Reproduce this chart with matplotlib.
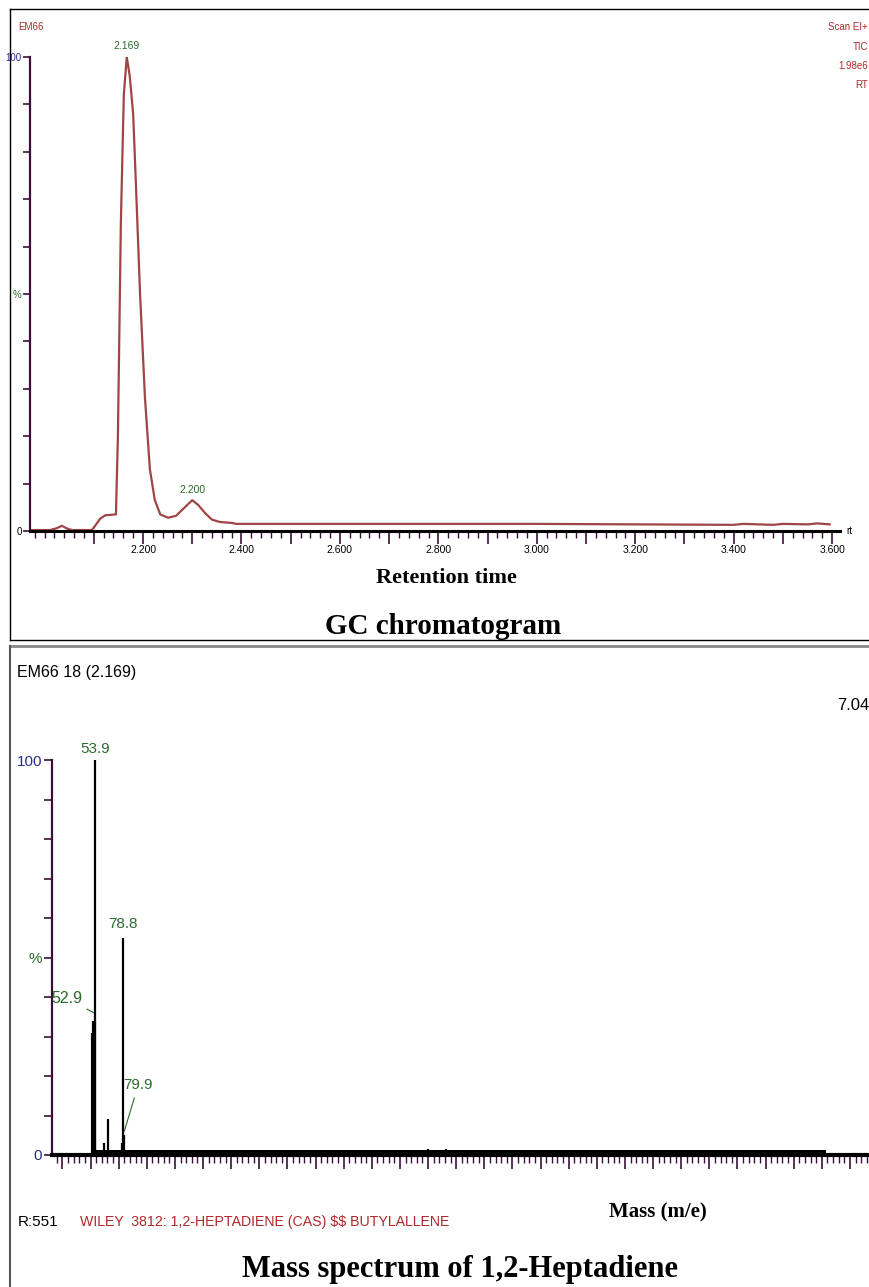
import matplotlib
matplotlib.use("Agg")
import matplotlib.pyplot as plt
from matplotlib.lines import Line2D
from matplotlib.ticker import MultipleLocator

W, H = 870, 1287

# GC chromatogram (retention time, relative abundance %)
rt = [1.970, 2.011, 2.025, 2.035, 2.046, 2.056, 2.096, 2.102, 2.113, 2.123, 2.145,
      2.149, 2.155, 2.161, 2.167, 2.173, 2.180, 2.186, 2.194, 2.204, 2.214, 2.224,
      2.235, 2.251, 2.267, 2.283, 2.300, 2.312, 2.326, 2.340, 2.356, 2.381, 2.389,
      2.600, 3.000, 3.399, 3.420, 3.480, 3.500, 3.550, 3.570, 3.595]
tic = [0.2, 0.2, 0.6, 1.1, 0.5, 0.2, 0.2, 1.0, 2.6, 3.3, 3.5,
       20, 65, 92, 100, 96, 88, 72, 50, 28, 13, 6.5,
       3.5, 2.8, 3.2, 4.8, 6.5, 5.5, 3.8, 2.4, 1.9, 1.7, 1.5,
       1.5, 1.5, 1.3, 1.5, 1.3, 1.5, 1.4, 1.6, 1.4]
gc_peaks = [(2.167, 100, "2.169"), (2.300, 6.5, "2.200")]
rt_ticks = [2.2, 2.4, 2.6, 2.8, 3.0, 3.2, 3.4, 3.6]

# mass spectrum (m/z, relative intensity %)
mz = [51.9, 52.9, 53.9, 61.9, 65.9, 77.9, 78.8, 79.9, 350, 366, 412, 520, 680]
inten = [31, 34, 100, 3, 9, 3, 55, 5, 1.5, 1.5, 1.2, 1.2, 1.2]
noise_range = (50, 704)
noise_level = 1.3

narrow = ["Liberation Sans", "DejaVu Sans"]
serif = ["Liberation Serif", "DejaVu Serif"]
purple = "#3a1038"
green = "#2a6a2a"
blue = "#2b2b8c"
red = "#b02828"

fig = plt.figure(figsize=(W / 100, H / 100), dpi=100)


def px_axes(x0, y0, x1, y1):
    return fig.add_axes([x0 / W, 1 - y1 / H, (x1 - x0) / W, (y1 - y0) / H])


def ftxt(x, y, s, **kw):
    return fig.text(x / W, 1 - y / H, s, parse_math=False, **kw)


def fline(xs, ys, **kw):
    fig.add_artist(Line2D([x / W for x in xs], [1 - y / H for y in ys],
                          transform=fig.transFigure, **kw))


# frames
fline([10, 10], [9, 640], color="black", lw=1)
fline([10, 870], [9, 9], color="black", lw=1)
fline([10, 870], [640, 640], color="black", lw=1)
fline([10, 870], [646, 646], color="#888888", lw=2)
fline([10, 10], [646, 1287], color="#555555", lw=1.5)

# ---------- top: GC chromatogram ----------
ax = px_axes(30, 57, 840, 531)
ax.plot(rt, tic, color="#a04545", lw=1.6)
ax.set_xlim(1.9704, 3.616)
ax.set_ylim(0, 100)
for s in ["top", "right"]:
    ax.spines[s].set_visible(False)
ax.spines["left"].set_color(purple)
ax.spines["left"].set_linewidth(1.6)
ax.spines["bottom"].set_color("black")
ax.spines["bottom"].set_linewidth(2.2)
ax.xaxis.set_minor_locator(MultipleLocator(0.02))
xmaj = [2.1 + 0.1 * i for i in range(16)]
ax.set_xticks(xmaj)
ax.set_xticklabels(["%.3f" % v if any(abs(v - t) < 1e-6 for t in rt_ticks) else ""
                    for v in xmaj], fontsize=7.5, family=narrow)
ax.tick_params(axis="x", which="major", length=9, width=1.2, color=purple, pad=1)
ax.tick_params(axis="x", which="minor", length=5, width=1, color=purple)
ax.set_yticks([0, 50, 100])
ax.set_yticklabels(["0", "%", "100"], fontsize=7, family=narrow)
for lab, c in zip(ax.get_yticklabels(), ["black", green, blue]):
    lab.set_color(c)
ax.yaxis.set_minor_locator(MultipleLocator(10))
ax.tick_params(axis="y", which="both", length=5, width=1.2, color=purple, pad=1)
for x, y, s in gc_peaks:
    ax.annotate(s, (x, y), xytext=(0, 4), textcoords="offset points", ha="center",
                va="bottom", color=green, fontsize=7.5, family=narrow, annotation_clip=False)
ax.text(1.008, 0.0, "rt", transform=ax.transAxes, fontsize=7, family=narrow,
        va="center", ha="left")

ftxt(18, 27, "EM66", color=red, fontsize=7, family=narrow, va="center")
for i, s in enumerate(["Scan EI+", "TIC", "1.98e6", "RT"]):
    ftxt(868, 27 + 19.5 * i, s, color=red, fontsize=7, family=narrow, va="center", ha="right")
ftxt(446, 578, "Retention time", fontsize=16, weight="bold", family=serif, ha="center", va="center")
ftxt(443, 626, "GC chromatogram", fontsize=21, weight="bold", family=serif, ha="center", va="center")

# ---------- bottom: mass spectrum ----------
bx = px_axes(52, 760, 880, 1155)
bx.fill_between(noise_range, 0, noise_level, color="black", lw=0)
bx.vlines(mz, 0, inten, color="black", lw=1.6)
bx.vlines(mz[:2], 0, inten[:2], color="black", lw=3)
bx.set_xlim(15.68, 751.7)
bx.set_ylim(0, 100)
for s in ["top", "right"]:
    bx.spines[s].set_visible(False)
bx.spines["left"].set_color(purple)
bx.spines["left"].set_linewidth(1.6)
bx.spines["bottom"].set_color("black")
bx.spines["bottom"].set_linewidth(3)
bx.xaxis.set_major_locator(MultipleLocator(25))
bx.xaxis.set_minor_locator(MultipleLocator(5))
bx.tick_params(axis="x", which="major", length=10, width=1.2, color=purple, labelbottom=False)
bx.tick_params(axis="x", which="minor", length=6, width=1, color=purple)
bx.set_yticks([0, 50, 100])
bx.set_yticklabels(["0", "%", "100"], fontsize=11, family=narrow)
for lab, c in zip(bx.get_yticklabels(), [blue, green, blue]):
    lab.set_color(c)
bx.yaxis.set_minor_locator(MultipleLocator(10))
bx.tick_params(axis="y", which="both", length=6, width=1.2, color=purple, pad=1)

bx.annotate("53.9", (mz[2], inten[2]), xytext=(0, 3), textcoords="offset points",
            ha="center", va="bottom", color=green, fontsize=11, family=narrow,
            annotation_clip=False)
bx.annotate("78.8", (mz[6], inten[6]), xytext=(0, 5), textcoords="offset points",
            ha="center", va="bottom", color=green, fontsize=11, family=narrow)
bx.annotate("52.9", (mz[1], inten[1] + 2), xytext=(-8, 10), textcoords="offset points",
            ha="right", va="center", color=green, fontsize=11.5, family=narrow,
            annotation_clip=False,
            arrowprops=dict(arrowstyle="-", color=green, lw=0.8, shrinkA=1, shrinkB=0))
bx.annotate("79.9", (mz[7], inten[7] + 1), xytext=(10, 28), textcoords="offset points",
            ha="center", va="bottom", color=green, fontsize=11, family=narrow,
            arrowprops=dict(arrowstyle="-", color=green, lw=0.8, shrinkA=2, shrinkB=0))

ftxt(17, 672, "EM66 18 (2.169)", fontsize=11.5, family=narrow, va="center")
ftxt(869, 706, "7.04", fontsize=12, family=narrow, va="center", ha="right")
ftxt(18, 1222, "R:551", fontsize=11, family=narrow, va="center")
ftxt(80, 1222, "WILEY  3812: 1,2-HEPTADIENE (CAS) $$ BUTYLALLENE", color=red,
     fontsize=10.2, family=narrow, va="center")
ftxt(658, 1212, "Mass (m/e)", fontsize=15, weight="bold", family=serif, ha="center", va="center")
ftxt(460, 1270, "Mass spectrum of 1,2-Heptadiene", fontsize=22, weight="bold",
     family=serif, ha="center", va="center")

fig.savefig("out.png", dpi=100)
